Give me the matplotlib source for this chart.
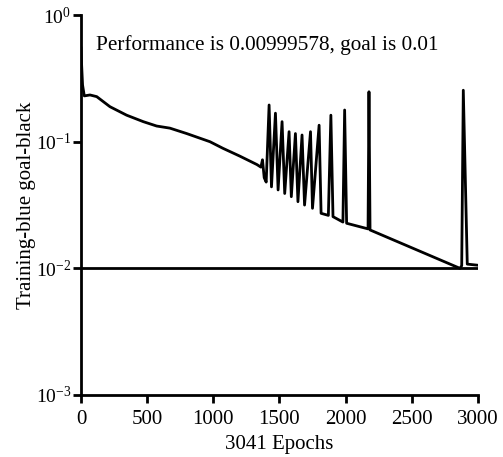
import numpy
import matplotlib
matplotlib.use('Agg')
import matplotlib.pyplot
from matplotlib.ticker import LogLocator, NullLocator

# Training performance (epoch, mse)
epochs = [0, 5, 12, 25, 68, 119, 219, 345, 471, 572, 672, 799, 975, 1073, 1200,
          1330, 1360, 1372, 1385, 1400, 1422, 1440, 1470, 1490, 1520, 1540,
          1573, 1590, 1621, 1640, 1671, 1690, 1735, 1750, 1800, 1815, 1870,
          1889, 1905, 1980, 1993, 2008, 2170, 2177, 2185, 2865, 2878, 2890,
          2920, 2993]
perf = [0.55, 0.40, 0.28, 0.23, 0.234, 0.227, 0.189, 0.162, 0.144, 0.133, 0.128,
        0.116, 0.100, 0.0887, 0.077, 0.066, 0.063, 0.072, 0.052, 0.048, 0.195,
        0.044, 0.168, 0.0416, 0.144, 0.039, 0.120, 0.0368, 0.116, 0.0336, 0.113,
        0.0316, 0.120, 0.0298, 0.135, 0.0272, 0.0262, 0.162, 0.0256, 0.0232,
        0.178, 0.0227, 0.0205, 0.248, 0.0201, 0.0100, 0.0105, 0.255, 0.0108,
        0.0106]
goal = 0.01
goal_x = [0, 3000]
x_ticks = [0, 500, 1000, 1500, 2000, 2500, 3000]

def main():
  matplotlib.pyplot.rcParams['font.family'] = ['Liberation Serif', 'DejaVu Serif']
  matplotlib.pyplot.rcParams['mathtext.fontset'] = 'custom'
  matplotlib.pyplot.rcParams['mathtext.rm'] = 'Liberation Serif'
  fig = matplotlib.pyplot.figure(figsize=(5.03, 4.57), dpi=100)
  ax = fig.add_axes([0.161, 0.1357, 0.789, 0.8313])
  ax.semilogy(epochs, perf, color='black', linewidth=2)
  ax.plot(goal_x, [goal, goal], color='black', linewidth=2)
  ax.set_xlim(0, 3000)
  ax.set_ylim(1e-3, 1)
  ax.set_xticks(x_ticks)
  ax.yaxis.set_major_locator(LogLocator(base=10, numticks=10))
  ax.yaxis.set_minor_locator(NullLocator())
  for side in ['top', 'right']:
    ax.spines[side].set_visible(False)
  for side in ['left', 'bottom']:
    ax.spines[side].set_linewidth(2)
  ax.tick_params(direction='out', length=6, width=2, labelsize=15, pad=2)
  ax.tick_params(axis='x', pad=5)
  ax.tick_params(axis='y', labelsize=14, pad=1)
  ax.set_xlabel('3041 Epochs', fontsize=15, labelpad=4)
  ax.set_ylabel('Training-blue goal-black', fontsize=15, labelpad=0)
  ax.text(0.47, 0.92, 'Performance is 0.00999578, goal is 0.01', transform=ax.transAxes,
          ha='center', va='center', fontsize=15.3)
  fig.savefig('out.png', dpi=100)

if __name__ == "__main__":
  main()
